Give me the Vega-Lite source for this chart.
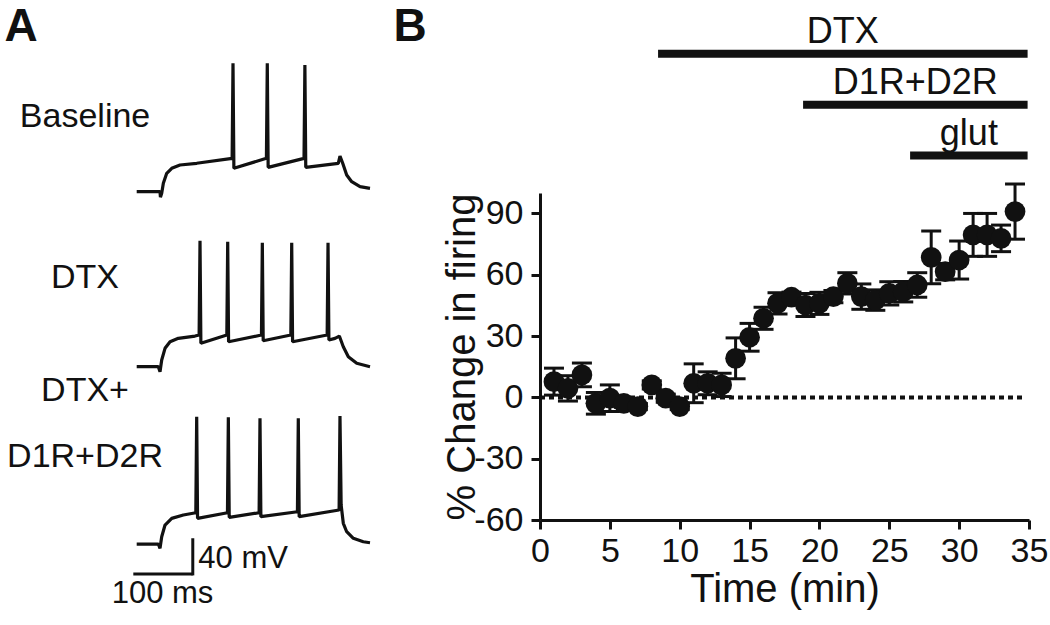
{
  "$schema": "https://vega.github.io/schema/vega-lite/v6.json",
  "width": 489,
  "height": 327,
  "autosize": {"type": "none"},
  "padding": {"left": 540, "top": 193, "right": 21, "bottom": 105},
  "background": "white",
  "config": {
    "view": {"stroke": null},
    "font": "Liberation Sans",
    "axis": {
      "domainColor": "#111", "domainWidth": 3, "tickColor": "#111", "tickWidth": 3, "tickSize": 9,
      "labelColor": "#111", "labelFont": "Liberation Sans", "labelFontSize": 34, "labelPadding": 8,
      "titleFont": "Liberation Sans", "titleFontSize": 40, "titleFontWeight": "normal", "titleColor": "#111",
      "grid": false, "labelFlush": false, "labelOverlap": false
    }
  },
  "datasets": {
    "firing": [
      {"t": 1, "pct": 7.7, "sem": 6.6}, {"t": 2, "pct": 4.4, "sem": 6.2}, {"t": 3, "pct": 11.0, "sem": 5.8},
      {"t": 4, "pct": -2.9, "sem": 5.3}, {"t": 5, "pct": -0.4, "sem": 6.5}, {"t": 6, "pct": -2.9, "sem": 2},
      {"t": 7, "pct": -4.5, "sem": 1.5}, {"t": 8, "pct": 6.1, "sem": 2}, {"t": 9, "pct": -0.4, "sem": 2},
      {"t": 10, "pct": -4.5, "sem": 1.5}, {"t": 11, "pct": 6.9, "sem": 9.5}, {"t": 12, "pct": 6.9, "sem": 5.6},
      {"t": 13, "pct": 6.1, "sem": 5.7}, {"t": 14, "pct": 19.1, "sem": 10}, {"t": 15, "pct": 29.4, "sem": 6.8},
      {"t": 16, "pct": 38.7, "sem": 5.4}, {"t": 17, "pct": 46.0, "sem": 5.2}, {"t": 18, "pct": 49.0, "sem": 2.5},
      {"t": 19, "pct": 45.2, "sem": 5.6}, {"t": 20, "pct": 46.0, "sem": 5.4}, {"t": 21, "pct": 49.3, "sem": 3},
      {"t": 22, "pct": 55.8, "sem": 5.2}, {"t": 23, "pct": 49.3, "sem": 6.2}, {"t": 24, "pct": 47.6, "sem": 5},
      {"t": 25, "pct": 50.9, "sem": 5.7}, {"t": 26, "pct": 51.7, "sem": 5}, {"t": 27, "pct": 55.0, "sem": 6},
      {"t": 28, "pct": 68.5, "sem": 12.9}, {"t": 29, "pct": 61.5, "sem": 4}, {"t": 30, "pct": 67.2, "sem": 9.3},
      {"t": 31, "pct": 79.5, "sem": 10.5}, {"t": 32, "pct": 79.5, "sem": 10.5}, {"t": 33, "pct": 77.8, "sem": 6.5},
      {"t": 34, "pct": 90.9, "sem": 13.5}
    ],
    "drugs": [
      {"drug": "DTX", "start": 8.45, "end": 34.9},
      {"drug": "D1R+D2R", "start": 18.83, "end": 34.9},
      {"drug": "glut", "start": 26.49, "end": 34.9}
    ],
    "traces": [
      {"cond": "Baseline", "ms": 5.8, "v": 416.9}, {"cond": "Baseline", "ms": 45.8, "v": 416.9},
      {"cond": "Baseline", "ms": 46.5, "v": 411}, {"cond": "Baseline", "ms": 48.7, "v": 415.2},
      {"cond": "Baseline", "ms": 51.5, "v": 426.1}, {"cond": "Baseline", "ms": 57.3, "v": 437.0},
      {"cond": "Baseline", "ms": 65.9, "v": 442.4}, {"cond": "Baseline", "ms": 80.1, "v": 446.0},
      {"cond": "Baseline", "ms": 108.7, "v": 447.9}, {"cond": "Baseline", "ms": 169.5, "v": 453.3},
      {"cond": "Baseline", "ms": 171.0, "v": 556.9}, {"cond": "Baseline", "ms": 172.5, "v": 442.4},
      {"cond": "Baseline", "ms": 228.3, "v": 453.3}, {"cond": "Baseline", "ms": 229.8, "v": 556.9},
      {"cond": "Baseline", "ms": 231.3, "v": 443.5}, {"cond": "Baseline", "ms": 292.8, "v": 453.3},
      {"cond": "Baseline", "ms": 294.3, "v": 555.1}, {"cond": "Baseline", "ms": 295.8, "v": 443.5},
      {"cond": "Baseline", "ms": 351.6, "v": 447.9}, {"cond": "Baseline", "ms": 354.5, "v": 455.8},
      {"cond": "Baseline", "ms": 359.2, "v": 447.9}, {"cond": "Baseline", "ms": 366.0, "v": 435.1},
      {"cond": "Baseline", "ms": 374.6, "v": 427.8}, {"cond": "Baseline", "ms": 388.9, "v": 422.4},
      {"cond": "Baseline", "ms": 406.0, "v": 420.6},

      {"cond": "DTX", "ms": 5.8, "v": 226.1}, {"cond": "DTX", "ms": 42.9, "v": 226.1},
      {"cond": "DTX", "ms": 45.8, "v": 220.6}, {"cond": "DTX", "ms": 48.7, "v": 233.4},
      {"cond": "DTX", "ms": 54.4, "v": 246.1}, {"cond": "DTX", "ms": 63.0, "v": 253.3},
      {"cond": "DTX", "ms": 77.2, "v": 257.0}, {"cond": "DTX", "ms": 105.8, "v": 259.5},
      {"cond": "DTX", "ms": 112.9, "v": 260.6}, {"cond": "DTX", "ms": 114.4, "v": 363.5},
      {"cond": "DTX", "ms": 115.9, "v": 251.6}, {"cond": "DTX", "ms": 160.4, "v": 260.6},
      {"cond": "DTX", "ms": 161.9, "v": 362.4}, {"cond": "DTX", "ms": 163.4, "v": 253.3},
      {"cond": "DTX", "ms": 219.8, "v": 260.6}, {"cond": "DTX", "ms": 221.3, "v": 361.3},
      {"cond": "DTX", "ms": 222.8, "v": 254.4}, {"cond": "DTX", "ms": 270.2, "v": 260.6},
      {"cond": "DTX", "ms": 271.7, "v": 361.3}, {"cond": "DTX", "ms": 273.2, "v": 253.3},
      {"cond": "DTX", "ms": 332.5, "v": 260.6}, {"cond": "DTX", "ms": 334.0, "v": 361.3},
      {"cond": "DTX", "ms": 335.5, "v": 255.2}, {"cond": "DTX", "ms": 346.0, "v": 257.0},
      {"cond": "DTX", "ms": 353.4, "v": 259.5}, {"cond": "DTX", "ms": 360.2, "v": 247.9},
      {"cond": "DTX", "ms": 368.8, "v": 237.0}, {"cond": "DTX", "ms": 383.2, "v": 229.8},
      {"cond": "DTX", "ms": 406.0, "v": 226.1},

      {"cond": "DTX+D1R+D2R", "ms": 5.8, "v": 32.7}, {"cond": "DTX+D1R+D2R", "ms": 42.9, "v": 32.7},
      {"cond": "DTX+D1R+D2R", "ms": 45.8, "v": 28.0}, {"cond": "DTX+D1R+D2R", "ms": 48.7, "v": 40.7},
      {"cond": "DTX+D1R+D2R", "ms": 54.4, "v": 53.4}, {"cond": "DTX+D1R+D2R", "ms": 65.9, "v": 60.7},
      {"cond": "DTX+D1R+D2R", "ms": 85.8, "v": 64.3}, {"cond": "DTX+D1R+D2R", "ms": 107.2, "v": 66.8},
      {"cond": "DTX+D1R+D2R", "ms": 108.7, "v": 171.5}, {"cond": "DTX+D1R+D2R", "ms": 110.2, "v": 60.7},
      {"cond": "DTX+D1R+D2R", "ms": 161.5, "v": 66.8}, {"cond": "DTX+D1R+D2R", "ms": 163.0, "v": 170.9},
      {"cond": "DTX+D1R+D2R", "ms": 164.5, "v": 61.8}, {"cond": "DTX+D1R+D2R", "ms": 215.8, "v": 66.8},
      {"cond": "DTX+D1R+D2R", "ms": 217.3, "v": 169.8}, {"cond": "DTX+D1R+D2R", "ms": 218.8, "v": 62.5},
      {"cond": "DTX+D1R+D2R", "ms": 281.5, "v": 67.9}, {"cond": "DTX+D1R+D2R", "ms": 283.0, "v": 169.8},
      {"cond": "DTX+D1R+D2R", "ms": 284.5, "v": 62.5}, {"cond": "DTX+D1R+D2R", "ms": 353.0, "v": 69.8},
      {"cond": "DTX+D1R+D2R", "ms": 354.5, "v": 172.3}, {"cond": "DTX+D1R+D2R", "ms": 356.5, "v": 75.2},
      {"cond": "DTX+D1R+D2R", "ms": 360.2, "v": 55.3}, {"cond": "DTX+D1R+D2R", "ms": 366.0, "v": 46.1},
      {"cond": "DTX+D1R+D2R", "ms": 377.4, "v": 38.9}, {"cond": "DTX+D1R+D2R", "ms": 394.5, "v": 35.2},
      {"cond": "DTX+D1R+D2R", "ms": 406.0, "v": 34.1}
    ]
  },
  "layer": [
    {
      "data": {"name": "firing"},
      "layer": [
        {
          "data": {"values": [{}]},
          "mark": {"type": "rule", "strokeDash": [5, 4], "strokeWidth": 4, "color": "#111"},
          "encoding": {
            "x": {"datum": 0, "type": "quantitative", "scale": {"domain": [0, 35], "nice": false, "zero": false}},
            "x2": {"datum": 34.6},
            "y": {"datum": 0, "type": "quantitative", "scale": {"domain": [-60, 100], "nice": false, "zero": false}}
          }
        },
        {
          "mark": {"type": "errorbar", "thickness": 3, "color": "#111",
                   "rule": {"color": "#111", "opacity": 1, "strokeWidth": 3},
                   "ticks": {"size": 20, "color": "#111", "opacity": 1, "thickness": 3}},
          "encoding": {
            "x": {"field": "t", "type": "quantitative", "scale": {"domain": [0, 35], "nice": false, "zero": false},
                  "axis": {"title": "Time (min)", "values": [0, 5, 10, 15, 20, 25, 30, 35], "titlePadding": 1, "labelPadding": 5}},
            "y": {"field": "pct", "type": "quantitative", "scale": {"domain": [-60, 100], "nice": false, "zero": false},
                  "axis": {"title": "% Change in firing", "values": [-60, -30, 0, 30, 60, 90], "titlePadding": -9,
                           "labelExpr": "'' + datum.value"}},
            "yError": {"field": "sem"}
          }
        },
        {
          "mark": {"type": "circle", "size": 430, "opacity": 1, "color": "#111"},
          "encoding": {
            "x": {"field": "t", "type": "quantitative", "scale": {"domain": [0, 35], "nice": false, "zero": false}, "title": "Time (min)"},
            "y": {"field": "pct", "type": "quantitative", "scale": {"domain": [-60, 100], "nice": false, "zero": false}, "title": "% Change in firing"}
          }
        }
      ]
    },
    {
      "data": {"name": "drugs"},
      "layer": [
        {
          "mark": {"type": "rule", "strokeWidth": 8, "strokeCap": "butt", "color": "#111"},
          "encoding": {
            "x": {"field": "start", "type": "quantitative", "scale": {"domain": [0, 35], "nice": false, "zero": false}, "axis": null},
            "x2": {"field": "end"},
            "y": {"field": "drug", "type": "ordinal", "scale": {"type": "point", "domain": ["DTX", "D1R+D2R", "glut"], "range": [-139.3, -37.4], "padding": 0}, "axis": null}
          }
        },
        {
          "transform": [{"fold": ["start", "end"], "as": ["edge", "time"]}],
          "mark": {"type": "text", "fontSize": 36, "dy": -11, "baseline": "alphabetic", "align": "center", "color": "#111", "font": "Liberation Sans"},
          "encoding": {
            "x": {"aggregate": "mean", "field": "time", "type": "quantitative", "scale": {"domain": [0, 35], "nice": false, "zero": false}, "axis": null},
            "y": {"field": "drug", "type": "ordinal", "scale": {"type": "point", "domain": ["DTX", "D1R+D2R", "glut"], "range": [-139.3, -37.4], "padding": 0}, "axis": null},
            "text": {"field": "drug"}
          }
        }
      ]
    },
    {
      "data": {"name": "traces"},
      "layer": [
        {
          "mark": {"type": "line", "strokeWidth": 3.2, "color": "#111", "strokeJoin": "bevel"},
          "encoding": {
            "x": {"field": "ms", "type": "quantitative", "scale": {"domain": [697.6, 1536.4], "nice": false, "zero": false}, "axis": null},
            "y": {"field": "v", "type": "quantitative", "scale": {"domain": [58.9, 415.5], "nice": false, "zero": false}, "axis": null},
            "detail": {"field": "cond"}
          }
        },
        {
          "data": {"values": [{}]},
          "mark": {"type": "rule", "strokeWidth": 3, "color": "#111"},
          "encoding": {
            "x": {"datum": 0, "type": "quantitative"}, "x2": {"datum": 102},
            "y": {"datum": 0, "type": "quantitative"}
          }
        },
        {
          "data": {"values": [{}]},
          "mark": {"type": "rule", "strokeWidth": 3, "color": "#111"},
          "encoding": {
            "x": {"datum": 102, "type": "quantitative"},
            "y": {"datum": -1.5, "type": "quantitative"}, "y2": {"datum": 39}
          }
        },
        {
          "data": {"values": [{}]},
          "mark": {"type": "text", "fontSize": 31, "align": "left", "baseline": "middle", "color": "#111", "font": "Liberation Sans"},
          "encoding": {"x": {"datum": 111.5, "type": "quantitative"}, "y": {"datum": 16.4, "type": "quantitative"}, "text": {"value": "40 mV"}}
        },
        {
          "data": {"values": [{}]},
          "mark": {"type": "text", "fontSize": 31, "align": "center", "baseline": "middle", "color": "#111", "font": "Liberation Sans"},
          "encoding": {"x": {"datum": 50.1, "type": "quantitative"}, "y": {"datum": -21.8, "type": "quantitative"}, "text": {"value": "100 ms"}}
        },
        {
          "data": {"values": [{}]},
          "mark": {"type": "text", "fontSize": 34, "align": "center", "baseline": "middle", "color": "#111", "font": "Liberation Sans"},
          "encoding": {"x": {"datum": -82.8, "type": "quantitative"}, "y": {"datum": 498.4, "type": "quantitative"}, "text": {"value": "Baseline"}}
        },
        {
          "data": {"values": [{}]},
          "mark": {"type": "text", "fontSize": 34, "align": "center", "baseline": "middle", "color": "#111", "font": "Liberation Sans"},
          "encoding": {"x": {"datum": -82.8, "type": "quantitative"}, "y": {"datum": 323.3, "type": "quantitative"}, "text": {"value": "DTX"}}
        },
        {
          "data": {"values": [{}]},
          "mark": {"type": "text", "fontSize": 34, "align": "center", "baseline": "middle", "lineBreak": "\n", "lineHeight": 66.5, "color": "#111", "font": "Liberation Sans"},
          "encoding": {"x": {"datum": -82.8, "type": "quantitative"}, "y": {"datum": 199.6, "type": "quantitative"}, "text": {"value": "DTX+\nD1R+D2R"}}
        },
        {
          "data": {"values": [{}]},
          "mark": {"type": "text", "fontSize": 46, "fontWeight": "bold", "align": "center", "baseline": "middle", "color": "#111", "font": "Liberation Sans"},
          "encoding": {"x": {"datum": -192.6, "type": "quantitative"}, "y": {"datum": 596.5, "type": "quantitative"}, "text": {"value": "A"}}
        },
        {
          "data": {"values": [{}]},
          "mark": {"type": "text", "fontSize": 46, "fontWeight": "bold", "align": "center", "baseline": "middle", "color": "#111", "font": "Liberation Sans"},
          "encoding": {"x": {"datum": 474.6, "type": "quantitative"}, "y": {"datum": 596.5, "type": "quantitative"}, "text": {"value": "B"}}
        }
      ]
    }
  ],
  "resolve": {"scale": {"x": "independent", "y": "independent"}, "axis": {"x": "independent", "y": "independent"}}
}
